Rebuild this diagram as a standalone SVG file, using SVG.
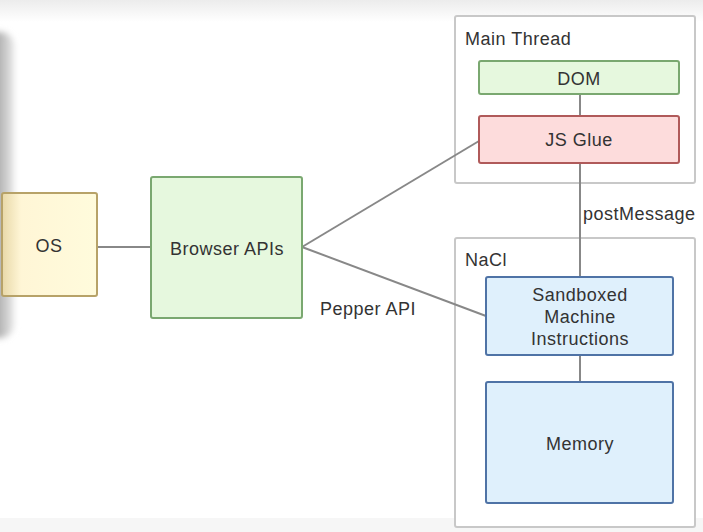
<svg xmlns="http://www.w3.org/2000/svg" width="703" height="532" viewBox="0 0 703 532">
<defs>
<linearGradient id="topfade" x1="0" y1="0" x2="0" y2="1">
<stop offset="0" stop-color="#ececec"/>
<stop offset="1" stop-color="#ffffff"/>
</linearGradient>
<linearGradient id="leftbar" x1="0" y1="0" x2="1" y2="0">
<stop offset="0" stop-color="#7a7a7a"/>
<stop offset="0.6" stop-color="#b8b8b8"/>
<stop offset="1" stop-color="#e8e8e8"/>
</linearGradient>
<linearGradient id="osfill" x1="0" y1="0" x2="1" y2="0">
<stop offset="0" stop-color="#e8d8a8"/>
<stop offset="0.2" stop-color="#fff6d6"/>
<stop offset="1" stop-color="#fffbdc"/>
</linearGradient>
<filter id="blur" x="-50%" y="-10%" width="200%" height="120%"><feGaussianBlur stdDeviation="3"/></filter>
</defs>
<style>
text{font-family:"Liberation Sans",Arial,sans-serif;fill:#333;font-size:18px;letter-spacing:0.5px}
.c{text-anchor:middle}
.conn line{stroke:#888;stroke-width:2}
.group{fill:#ffffff;stroke:#c8c8c8;stroke-width:2}
.green{fill:#e6f8de;stroke:#7aa870;stroke-width:2}
.red{fill:#fddcdc;stroke:#b05a5a;stroke-width:2}
.blue{fill:#dff0fc;stroke:#4f73a6;stroke-width:2}
.yellow{fill:url(#osfill);stroke:#b7a268;stroke-width:2}
</style>
<rect x="0" y="0" width="703" height="532" fill="#ffffff"/>
<rect x="0" y="0" width="703" height="22" fill="url(#topfade)"/>
<rect x="0" y="518" width="703" height="14" fill="#f6f6f6"/>
<rect x="-20" y="32" width="34" height="306" rx="14" fill="url(#leftbar)" filter="url(#blur)"/>

<g id="main-thread">
<rect class="group" x="455" y="16" width="240" height="167" rx="2"/>
<text x="465" y="45">Main Thread</text>
</g>
<g id="nacl">
<rect class="group" x="455" y="238" width="240" height="289" rx="2"/>
<text x="465" y="266">NaCl</text>
</g>

<g id="connectors" class="conn">
<line x1="97" y1="247" x2="151" y2="247"/>
<line x1="302" y1="247" x2="479" y2="141"/>
<line x1="302" y1="247" x2="486" y2="316"/>
<line x1="580" y1="94" x2="580" y2="116"/>
<line x1="580" y1="163" x2="580" y2="277"/>
<line x1="580" y1="355" x2="580" y2="382"/>
</g>
<text x="583" y="220">postMessage</text>
<text x="320" y="315">Pepper API</text>

<g id="os">
<rect class="yellow" x="2" y="193" width="95" height="103" rx="2"/>
<text class="c" x="49" y="252">OS</text>
</g>
<g id="browser-apis">
<rect class="green" x="151" y="177" width="151" height="141" rx="2"/>
<text class="c" x="227" y="255">Browser APIs</text>
</g>
<g id="dom">
<rect class="green" x="479" y="61" width="200" height="33" rx="2"/>
<text class="c" x="579" y="85">DOM</text>
</g>
<g id="js-glue">
<rect class="red" x="479" y="116" width="200" height="47" rx="2"/>
<text class="c" x="579" y="146">JS Glue</text>
</g>
<g id="sandboxed">
<rect class="blue" x="486" y="277" width="187" height="78" rx="2"/>
<text class="c" x="580" y="301">Sandboxed</text>
<text class="c" x="580" y="323">Machine</text>
<text class="c" x="580" y="345">Instructions</text>
</g>
<g id="memory">
<rect class="blue" x="486" y="382" width="187" height="121" rx="2"/>
<text class="c" x="580" y="450">Memory</text>
</g>
</svg>
